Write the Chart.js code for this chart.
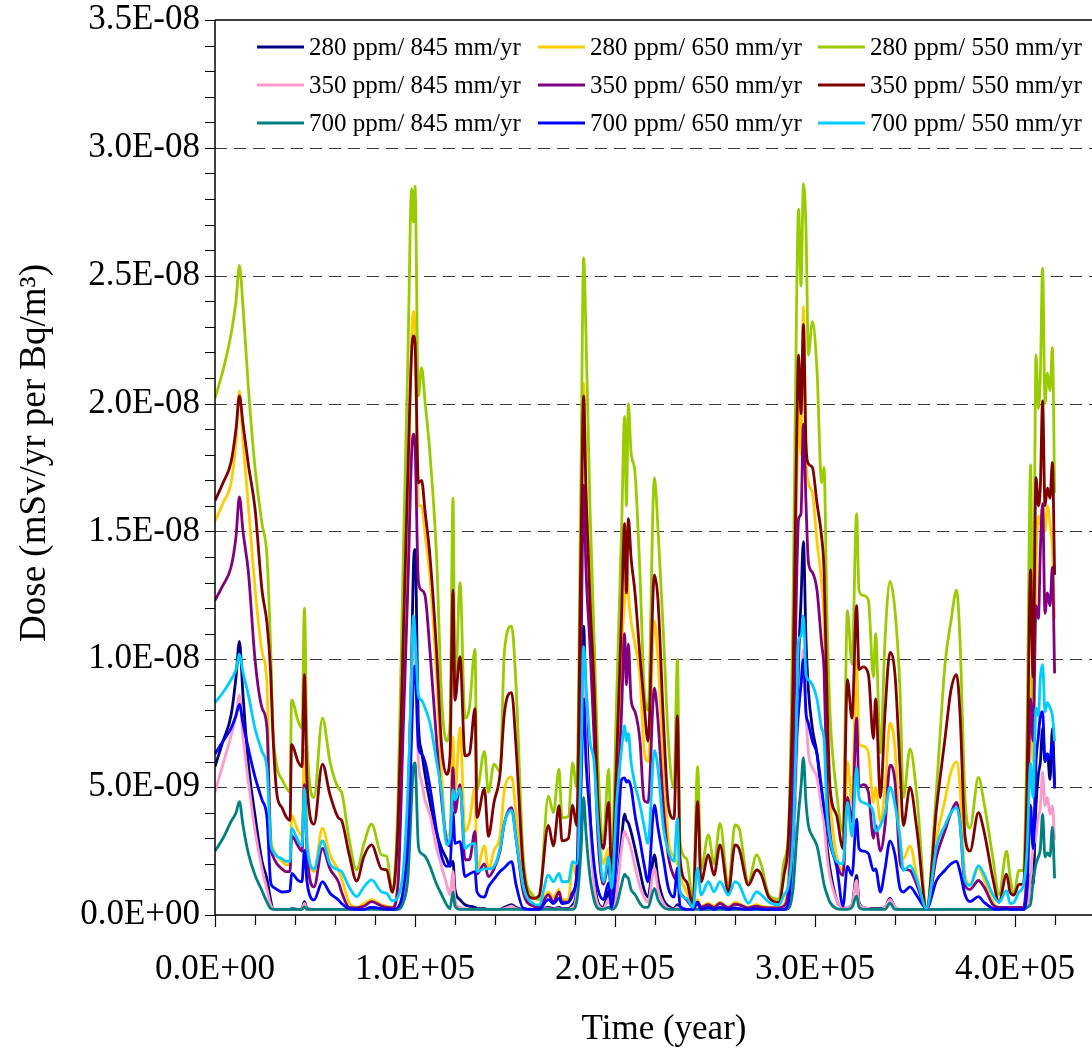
<!DOCTYPE html>
<html>
<head>
<meta charset="utf-8">
<title>Dose vs Time</title>
<script src="https://cdn.jsdelivr.net/npm/chart.js@4.4.1/dist/chart.umd.min.js"></script>
<style>
  html, body { margin: 0; padding: 0; background: #fff; }
  #wrap { width: 1092px; height: 1049px; }
</style>
</head>
<body>
<div id="wrap"><canvas id="doseChart" width="1092" height="1049"></canvas></div>
<script>
// Time in thousands of years
let timeKyr = [
	0, 4, 8, 10.5, 12.2, 14, 16.7, 20, 23.5, 26, 27.8, 29, 31, 33.5, 35.5, 37.5, 38.3, 41.5, 43.5, 44.7, 46,
	49.5, 53.7, 57.5, 61.7, 63.3, 67, 70.8, 74.5, 78.3, 83.3, 85.8, 88.7, 91.5, 94.2, 96.5, 98.3,
	99.2, 100, 101.7, 103.3, 105, 107.5, 110.8, 113.3, 115.8, 117.5, 119, 120, 122.5, 125, 127.2, 130, 131,
	134.7, 136.7, 139.5, 142.5, 144.7, 148.3, 150.5, 154.2, 159, 162, 166.7, 169.2, 172, 173.5, 176.7, 178.8, 180.8,
	183, 184.3, 185.5, 187.5, 189.5, 191.5, 194.2, 196.8, 198.3, 200.8, 203.3, 204.8, 205.7, 206.7, 208, 210, 212.5,
	214.5, 216.5, 219.7, 221.5, 224.2, 226.7, 229.5, 231.2, 232.5, 235.8, 239, 241.3, 243, 246.7, 249.5, 252.5, 256.7, 260, 262,
	266.7, 270.8, 273, 277, 282, 284.5, 286.7, 289, 290.8, 291.8, 293, 294.2, 295.5, 296.7, 298.7, 301,
	303.3, 304.5, 306, 307.5, 310.8, 314, 316.2, 318.5, 320.8, 322, 324, 326.7, 329.2, 330.3, 332.7, 335, 337.5, 340,
	342.5, 344.2, 347.5, 351, 355.8, 360.8, 365, 368, 370.8, 372.5, 375, 377.5, 381.7, 384.5, 389, 392, 395.8, 397.5, 399.5, 402, 404.2,
	406, 407.8, 409, 410.5, 411.7, 412.7, 413.8, 415, 416.2, 417.5, 418.7, 419.8,
]

// Dose values in units of 1E-09 mSv/yr per Bq/m3
let dose280_845 = [
	5.8, 6.8, 7.8, 9.3, 10.7, 8.6, 5.9, 3.9, 2.1, 1.4, 0.6, 0.25, 0.22, 0.22, 0.22, 0.22, 0.25, 0.22, 0.25, 0.52, 0.25,
	0.22, 0.22, 0.22, 0.22, 0.22, 0.22, 0.22, 0.22, 0.3, 0.22, 0.22, 0.22, 0.25, 0.8, 4.0, 10.0,
	13.6, 14.3, 7.5, 6.4, 5.5, 4.4, 3.2, 2.6, 2.2, 1.9, 2.1, 1.0, 0.6, 0.4, 0.35, 0.3, 0.25,
	0.25, 0.22, 0.22, 0.22, 0.3, 0.4, 0.3, 0.22, 0.22, 0.22, 0.3, 0.25, 0.3, 0.25, 0.25, 0.4, 1.0,
	7.0, 11.3, 8.0, 4.0, 1.5, 0.5, 0.3, 0.93, 0.25, 1.0, 3.0, 3.94, 3.7, 3.6, 3.26, 2.6, 1.7,
	1.0, 0.7, 2.35, 1.4, 0.6, 0.35, 0.25, 0.4, 0.22, 0.22, 0.22, 0.35, 0.22, 0.22, 0.22, 0.25, 0.22, 0.22, 0.22,
	0.22, 0.22, 0.22, 0.22, 0.22, 0.22, 0.3, 2.0, 7.0, 10.0, 12.3, 14.6, 10.75, 8.8, 7.3, 6.3,
	4.6, 3.8, 2.7, 1.8, 0.6, 0.3, 0.3, 0.4, 1.55, 0.5, 0.3, 0.25, 0.25, 0.25, 0.25, 0.3, 0.65, 0.3,
	0.22, 0.22, 0.22, 0.22, 0.22, 0.22, 0.22, 0.22, 0.22, 0.22, 0.22, 0.22, 0.22, 0.22, 0.22, 0.22, 0.22, 0.22, 0.22, 0.22, 0.22,
	0.3, 1.6, 1.2, 4.3, 5.5, 6.0, 7.3, 6.0, 6.3, 5.3, 7.3, 5.1,
]
let dose280_650 = [
	15.4, 16.1, 16.9, 18.5, 20.5, 18.5, 16.0, 12.8, 10.3, 9.0, 3.2, 2.6, 2.3, 2.1, 1.96, 2.0, 3.9, 3.3, 3.1, 6.45, 3.2,
	1.7, 3.4, 2.35, 1.76, 1.43, 0.5, 0.3, 0.45, 0.6, 0.4, 0.35, 0.3, 1.5, 8.4, 16.0, 22.5,
	23.6, 22.8, 16.0, 16.0, 14.9, 13.2, 9.3, 5.5, 3.1, 3.27, 6.96, 4.75, 7.33, 3.27, 3.64, 5.0, 1.8,
	2.7, 1.79, 2.53, 3.1, 4.9, 5.4, 4.0, 1.06, 0.41, 0.35, 0.9, 0.7, 1.0, 0.6, 0.6, 2.0, 1.5,
	12.0, 20.8, 16.5, 13.5, 9.3, 4.5, 2.0, 2.6, 0.9, 5.0, 10.5, 12.3, 13.8, 12.5, 11.5, 10.6, 9.3,
	6.5, 6.0, 11.5, 10.0, 5.94, 2.94, 2.27, 2.0, 1.5, 0.9, 0.35, 0.6, 0.35, 0.45, 0.35, 0.5, 0.3, 0.5, 0.45,
	0.3, 0.4, 0.35, 0.3, 0.3, 0.4, 1.5, 7.0, 16.0, 20.0, 18.0, 23.8, 18.0, 16.9, 16.5, 14.6,
	13.0, 11.5, 6.5, 4.5, 2.3, 1.74, 6.0, 4.4, 10.0, 6.7, 6.6, 6.34, 4.4, 5.0, 3.65, 5.0, 7.5, 6.5,
	2.9, 2.2, 2.7, 1.5, 0.26, 3.0, 4.5, 5.6, 6.0, 5.0, 1.55, 1.2, 1.83, 1.4, 0.5, 0.3, 0.3, 0.3, 0.3, 0.3, 0.3,
	2.0, 9.3, 6.0, 13.5, 15.6, 15.3, 16.0, 15.0, 16.0, 15.3, 14.3, 11.6,
]
let dose280_550 = [
	20.2, 21.3, 22.7, 24.0, 25.4, 23.8, 20.6, 17.5, 15.3, 14.0, 10.5, 7.3, 5.8, 5.3, 5.0, 4.8, 8.4, 7.6, 7.3, 12.0, 6.8,
	4.6, 7.7, 6.0, 4.95, 4.8, 3.0, 1.76, 2.8, 3.55, 2.35, 2.3, 0.9, 4.5, 14.2, 22.0, 28.4,
	27.1, 28.5, 20.3, 21.4, 20.1, 18.0, 14.0, 8.5, 6.8, 7.5, 16.3, 8.4, 13.0, 7.7, 8.1, 10.4, 4.9,
	6.4, 4.8, 5.9, 5.6, 10.3, 11.3, 9.0, 2.2, 0.75, 0.6, 4.65, 4.0, 5.7, 3.8, 3.85, 5.95, 5.0,
	17.3, 25.7, 22.7, 15.9, 11.0, 5.94, 2.9, 5.7, 2.1, 8.45, 15.1, 19.5, 16.0, 20.0, 18.1, 17.3, 13.3,
	9.0, 8.0, 17.1, 15.1, 11.0, 6.8, 4.95, 10.0, 2.9, 2.2, 0.5, 5.8, 1.8, 3.13, 2.0, 3.58, 1.17, 3.52, 3.39,
	1.3, 2.35, 2.0, 0.78, 0.62, 2.1, 3.2, 12.0, 24.0, 27.6, 24.6, 28.6, 26.8, 21.9, 23.2, 21.3,
	16.9, 17.5, 11.7, 7.9, 4.8, 3.27, 11.9, 9.8, 15.7, 12.7, 12.5, 12.3, 9.3, 11.0, 6.34, 10.75, 13.05, 11.9,
	8.8, 4.6, 6.5, 4.6, 0.3, 5.0, 9.8, 11.5, 12.7, 10.75, 4.6, 3.4, 5.38, 4.4, 2.2, 0.8, 2.5, 1.5, 0.85, 1.74, 1.74,
	7.0, 17.6, 8.45, 21.9, 19.8, 21.2, 25.3, 20.0, 21.2, 20.5, 22.2, 16.5,
]
let dose350_845 = [
	4.8, 5.9, 7.0, 7.8, 8.6, 7.0, 5.2, 3.3, 1.8, 1.0, 0.4, 0.25, 0.22, 0.22, 0.22, 0.22, 0.22, 0.22, 0.25, 0.45, 0.22,
	0.22, 0.22, 0.22, 0.22, 0.22, 0.22, 0.22, 0.22, 0.3, 0.22, 0.22, 0.22, 0.25, 0.8, 4.0, 9.5,
	11.4, 10.5, 6.0, 5.2, 4.5, 3.9, 2.6, 1.9, 1.2, 0.8, 1.7, 0.6, 0.3, 0.25, 0.22, 0.22, 0.22,
	0.22, 0.22, 0.22, 0.22, 0.25, 0.35, 0.25, 0.22, 0.22, 0.22, 0.25, 0.22, 0.25, 0.22, 0.22, 0.3, 0.8,
	6.0, 10.0, 7.0, 3.5, 1.2, 0.4, 0.25, 0.6, 0.22, 0.9, 2.6, 3.27, 3.1, 2.94, 2.6, 1.9, 1.1,
	0.7, 0.5, 1.83, 1.0, 0.45, 0.25, 0.22, 0.3, 0.22, 0.22, 0.22, 0.3, 0.22, 0.22, 0.22, 0.22, 0.22, 0.22, 0.22,
	0.22, 0.22, 0.22, 0.22, 0.22, 0.22, 0.3, 2.0, 6.0, 8.0, 9.0, 10.4, 7.9, 6.34, 5.76, 5.38,
	4.2, 3.6, 2.3, 1.5, 0.6, 0.3, 0.3, 0.4, 1.35, 0.45, 0.3, 0.25, 0.22, 0.22, 0.22, 0.3, 0.6, 0.3,
	0.22, 0.22, 0.22, 0.22, 0.22, 0.22, 0.22, 0.22, 0.22, 0.22, 0.22, 0.22, 0.22, 0.22, 0.22, 0.22, 0.22, 0.22, 0.22, 0.22, 0.22,
	0.3, 1.5, 2.6, 3.1, 3.8, 4.27, 5.6, 4.27, 4.6, 3.94, 4.27, 2.94,
]
let dose350_650 = [
	12.3, 12.9, 13.6, 14.8, 16.35, 15.0, 13.4, 10.0, 8.1, 7.3, 2.8, 2.3, 2.0, 1.8, 1.7, 1.7, 3.1, 2.7, 2.5, 5.1, 2.5,
	1.1, 2.6, 1.8, 1.3, 0.9, 0.3, 0.28, 0.35, 0.52, 0.35, 0.3, 0.28, 1.2, 7.5, 13.0, 18.0,
	18.8, 18.4, 13.05, 12.7, 12.5, 10.3, 6.8, 4.5, 2.9, 2.7, 5.76, 4.0, 5.1, 2.16, 2.16, 3.27, 1.6,
	2.0, 1.5, 1.8, 2.5, 3.6, 4.2, 3.0, 0.87, 0.35, 0.3, 0.8, 0.5, 0.9, 0.5, 0.5, 0.9, 1.5,
	10.0, 16.8, 13.5, 10.5, 7.0, 3.0, 1.2, 1.93, 0.76, 3.5, 8.0, 11.0, 9.0, 10.6, 8.45, 7.95, 6.8,
	4.5, 4.4, 8.87, 7.6, 4.27, 2.3, 1.5, 1.3, 0.9, 0.6, 0.3, 0.5, 0.3, 0.4, 0.3, 0.45, 0.28, 0.42, 0.4,
	0.28, 0.35, 0.3, 0.28, 0.28, 0.35, 1.0, 5.5, 13.0, 15.5, 15.7, 19.2, 16.1, 13.8, 13.4, 12.7,
	10.6, 9.6, 5.0, 3.2, 2.0, 1.55, 4.6, 3.65, 7.7, 5.0, 5.1, 4.8, 3.0, 3.5, 2.5, 3.5, 5.86, 5.2,
	2.1, 1.8, 1.74, 1.16, 0.26, 2.3, 3.3, 4.0, 4.4, 3.6, 1.16, 1.0, 1.35, 1.1, 0.4, 0.3, 0.3, 0.3, 0.3, 0.3, 0.3,
	2.0, 8.45, 6.8, 12.1, 11.6, 14.3, 16.1, 11.8, 12.6, 12.1, 13.6, 9.45,
]
let dose350_550 = [
	16.2, 16.9, 17.7, 19.0, 20.3, 19.2, 17.6, 15.9, 12.7, 11.4, 9.5, 7.0, 4.7, 4.2, 3.85, 3.7, 6.67, 6.0, 5.8, 9.4, 5.2,
	3.55, 5.9, 4.7, 3.8, 3.7, 2.4, 1.33, 2.3, 2.74, 1.8, 1.76, 0.89, 3.5, 11.0, 17.5, 22.0,
	22.65, 22.4, 16.9, 17.0, 15.8, 14.0, 10.3, 6.6, 5.5, 6.2, 12.7, 8.4, 10.1, 6.22, 6.3, 8.07, 3.82,
	4.93, 3.08, 4.4, 5.5, 7.9, 8.7, 6.6, 1.8, 0.65, 0.75, 3.5, 2.7, 4.28, 2.9, 3.0, 4.3, 3.5,
	14.3, 20.3, 16.5, 12.3, 9.0, 4.3, 2.6, 4.4, 1.6, 6.0, 11.8, 15.3, 12.6, 15.5, 14.0, 12.6, 10.1,
	8.3, 6.8, 13.3, 12.3, 7.6, 4.27, 3.77, 7.8, 2.2, 1.3, 0.4, 4.43, 1.3, 2.35, 1.56, 2.74, 0.91, 2.74, 2.6,
	1.17, 1.76, 1.6, 0.68, 0.5, 1.56, 3.0, 9.0, 18.4, 21.9, 19.6, 23.1, 18.4, 17.65, 17.5, 16.1,
	14.8, 13.5, 8.5, 5.0, 3.9, 2.6, 9.2, 7.7, 12.1, 9.6, 9.7, 9.4, 6.9, 8.45, 4.6, 7.9, 10.27, 9.4,
	5.8, 3.5, 5.0, 3.3, 0.26, 4.2, 6.9, 8.8, 9.4, 7.9, 3.1, 2.5, 4.0, 3.27, 1.4, 0.5, 1.6, 0.9, 0.78, 1.2, 1.2,
	5.0, 13.5, 9.3, 17.1, 16.0, 16.8, 20.1, 16.0, 16.7, 16.3, 17.7, 13.3,
]
let dose700_845 = [
	2.5, 3.0, 3.65, 4.0, 4.43, 3.5, 2.4, 1.56, 0.95, 0.5, 0.25, 0.22, 0.22, 0.22, 0.22, 0.22, 0.22, 0.22, 0.22, 0.32, 0.22,
	0.22, 0.22, 0.22, 0.22, 0.22, 0.22, 0.22, 0.22, 0.22, 0.22, 0.22, 0.22, 0.22, 0.5, 1.5, 4.5,
	5.8, 5.95, 2.7, 2.4, 2.3, 1.9, 1.2, 0.8, 0.4, 0.25, 0.9, 0.35, 0.22, 0.22, 0.22, 0.22, 0.22,
	0.22, 0.22, 0.22, 0.22, 0.22, 0.22, 0.22, 0.22, 0.22, 0.22, 0.22, 0.22, 0.22, 0.22, 0.22, 0.22, 0.5,
	2.5, 4.6, 3.2, 1.5, 0.6, 0.25, 0.22, 0.3, 0.22, 0.4, 1.2, 1.6, 1.5, 1.43, 1.0, 0.8, 0.45,
	0.3, 0.3, 1.04, 0.6, 0.3, 0.22, 0.22, 0.22, 0.22, 0.22, 0.22, 0.22, 0.22, 0.22, 0.22, 0.22, 0.22, 0.22, 0.22,
	0.22, 0.22, 0.22, 0.22, 0.22, 0.22, 0.25, 1.0, 3.0, 4.0, 5.0, 6.15, 4.4, 3.5, 3.08, 2.7,
	1.74, 1.2, 0.8, 0.5, 0.25, 0.22, 0.22, 0.3, 0.75, 0.3, 0.22, 0.22, 0.22, 0.22, 0.22, 0.22, 0.46, 0.22,
	0.22, 0.22, 0.22, 0.22, 0.22, 0.22, 0.22, 0.22, 0.22, 0.22, 0.22, 0.22, 0.22, 0.22, 0.22, 0.22, 0.22, 0.22, 0.22, 0.22, 0.22,
	0.3, 0.43, 1.26, 2.0, 2.27, 2.6, 3.94, 2.27, 2.43, 2.3, 3.44, 1.43,
]
let dose700_650 = [
	6.3, 6.8, 7.3, 7.8, 8.24, 7.5, 6.5, 5.4, 4.5, 3.8, 1.3, 1.1, 1.0, 0.9, 0.91, 0.95, 1.63, 1.35, 1.3, 2.54, 1.3,
	0.59, 1.3, 0.85, 0.59, 0.45, 0.25, 0.22, 0.22, 0.3, 0.25, 0.22, 0.22, 0.3, 1.0, 3.0, 7.0,
	9.2, 9.73, 6.6, 6.3, 6.0, 5.0, 3.3, 2.3, 1.9, 1.96, 4.0, 2.8, 2.87, 1.5, 1.6, 1.7, 0.9,
	0.7, 1.1, 1.4, 1.7, 1.85, 2.09, 1.2, 0.26, 0.22, 0.22, 0.6, 0.45, 0.65, 0.45, 0.5, 0.78, 1.5,
	5.0, 8.45, 6.0, 3.9, 2.0, 1.0, 0.6, 1.26, 0.3, 2.3, 5.3, 5.36, 5.2, 5.25, 5.0, 3.9, 2.9,
	2.0, 1.3, 4.3, 3.4, 2.2, 1.04, 0.7, 1.83, 0.35, 0.22, 0.22, 0.5, 0.22, 0.3, 0.22, 0.3, 0.22, 0.28, 0.25,
	0.22, 0.25, 0.22, 0.22, 0.22, 0.22, 0.5, 3.0, 6.9, 8.0, 9.0, 10.0, 7.9, 7.5, 6.8, 6.3,
	4.95, 4.2, 3.5, 2.8, 1.9, 0.35, 1.9, 1.55, 3.75, 2.6, 2.5, 2.4, 1.74, 1.8, 0.9, 1.8, 2.9, 2.35,
	1.04, 0.9, 1.1, 0.75, 0.26, 1.35, 1.75, 2.0, 2.1, 1.7, 0.8, 0.52, 0.72, 0.5, 0.25, 0.22, 0.25, 0.22, 0.22, 0.22, 0.22,
	1.0, 4.3, 2.6, 6.0, 7.0, 7.8, 7.95, 6.0, 6.3, 6.1, 6.8, 4.94,
]
let dose700_550 = [
	8.3, 8.7, 9.2, 9.6, 10.2, 9.5, 8.6, 7.3, 6.4, 5.7, 2.9, 2.5, 2.3, 2.2, 2.1, 2.1, 3.4, 2.9, 2.7, 4.95, 2.8,
	1.8, 2.9, 2.0, 1.76, 1.7, 1.1, 0.72, 1.1, 1.37, 0.9, 0.85, 0.55, 0.7, 1.8, 5.0, 9.0,
	11.7, 11.0, 8.6, 8.4, 8.1, 7.5, 6.0, 4.8, 2.74, 3.0, 4.9, 4.5, 4.95, 2.6, 2.74, 2.8, 1.7,
	1.8, 1.8, 1.9, 2.6, 3.6, 4.1, 3.0, 1.1, 0.45, 0.39, 1.56, 1.3, 1.63, 1.3, 1.3, 2.1, 2.0,
	6.0, 10.5, 9.0, 6.8, 6.0, 3.5, 1.3, 2.27, 1.04, 4.4, 6.5, 7.4, 6.8, 7.1, 6.0, 5.1, 4.3,
	3.5, 2.8, 6.44, 5.7, 3.4, 2.5, 2.1, 3.78, 0.9, 0.65, 0.3, 1.83, 0.78, 1.3, 0.91, 1.3, 0.78, 1.3, 1.2,
	0.46, 0.91, 0.8, 0.5, 0.4, 0.8, 1.16, 3.0, 7.5, 10.75, 10.9, 11.7, 9.4, 9.2, 9.0, 8.45,
	7.3, 6.9, 4.0, 3.0, 2.1, 2.0, 4.4, 3.08, 5.76, 4.6, 4.4, 4.3, 4.0, 3.27, 3.5, 4.0, 5.0, 4.3,
	3.0, 1.74, 1.93, 1.35, 0.26, 2.7, 3.5, 4.0, 4.2, 3.6, 1.35, 1.16, 1.93, 1.6, 0.78, 0.5, 0.95, 0.45, 0.5, 0.9, 1.16,
	2.5, 5.94, 4.6, 8.1, 7.8, 9.3, 9.8, 7.95, 8.3, 8.1, 7.8, 6.8,
]

let seriesLabels = [
	"280 ppm/ 845 mm/yr", "280 ppm/ 650 mm/yr", "280 ppm/ 550 mm/yr",
	"350 ppm/ 845 mm/yr", "350 ppm/ 650 mm/yr", "350 ppm/ 550 mm/yr",
	"700 ppm/ 845 mm/yr", "700 ppm/ 650 mm/yr", "700 ppm/ 550 mm/yr",
]
let seriesValues = [
	dose280_845, dose280_650, dose280_550,
	dose350_845, dose350_650, dose350_550,
	dose700_845, dose700_650, dose700_550,
]
let seriesColors = [
	"#000080", "#FFCC00", "#99CC00",
	"#FF99CC", "#800080", "#800000",
	"#008080", "#0000FF", "#00CCFF",
]

let xTickValues = [0, 1e5, 2e5, 3e5, 4e5]
let yTickValues = [0, 5e-9, 1e-8, 1.5e-8, 2e-8, 2.5e-8, 3e-8, 3.5e-8]
let xTitle = "Time (year)"
let yTitle = "Dose (mSv/yr per Bq/m³)"

const FONT = '"Times New Roman", "Liberation Serif", serif'
const X_MAX = 438500
const Y_MAX = 3.5e-8

// 3.0E-08 style labels
function sciLabel(v) {
	if (Math.abs(v) < 1e-20) return "0.0E+00"
	let exp = Math.floor(Math.log10(Math.abs(v)) + 1e-9)
	let mant = v / Math.pow(10, exp)
	if (Math.round(mant * 10) >= 100) {
		exp += 1
		mant /= 10
	}
	let sign = exp < 0 ? "-" : "+"
	return mant.toFixed(1) + "E" + sign + String(Math.abs(exp)).padStart(2, "0")
}

// dashed grid, frame, tick marks, axis titles and the in-plot legend
let frame = {
	id: "frame",
	beforeDatasetsDraw(chart) {
		let {ctx, chartArea: a, scales: {y}} = chart
		ctx.save()
		ctx.strokeStyle = "#3a3a3a"
		ctx.lineWidth = 1.2
		ctx.setLineDash([12, 7])
		yTickValues.forEach(v => {
			if (v <= 0 || v >= Y_MAX) return
			let py = Math.round(y.getPixelForValue(v)) + 0.5
			ctx.beginPath()
			ctx.moveTo(a.left, py)
			ctx.lineTo(a.right, py)
			ctx.stroke()
		})
		ctx.restore()
	},
	afterDatasetsDraw(chart) {
		let {ctx, chartArea: a, scales: {x, y}} = chart
		ctx.save()
		ctx.strokeStyle = "#000"
		ctx.lineWidth = 1.5
		ctx.setLineDash([])

		// axes and top edge
		ctx.beginPath()
		ctx.moveTo(a.left, a.top)
		ctx.lineTo(a.left, a.bottom)
		ctx.lineTo(a.right, a.bottom)
		ctx.moveTo(a.left, a.top)
		ctx.lineTo(a.right, a.top)
		ctx.stroke()

		// minor ticks every 1E-09 on y, every 2E+04 on x
		ctx.lineWidth = 1.2
		ctx.beginPath()
		for (let k = 0; k <= 35; k++) {
			let py = Math.round(y.getPixelForValue(k * 1e-9)) + 0.5
			ctx.moveTo(a.left - 10, py)
			ctx.lineTo(a.left, py)
		}
		for (let k = 0; k * 2e4 <= X_MAX; k++) {
			let px = Math.round(x.getPixelForValue(k * 2e4)) + 0.5
			ctx.moveTo(px, a.bottom)
			ctx.lineTo(px, a.bottom + (k % 5 == 0 ? 12 : 10))
		}
		ctx.stroke()

		// axis titles
		ctx.fillStyle = "#000"
		ctx.textAlign = "center"
		ctx.textBaseline = "middle"
		ctx.font = "35px " + FONT
		ctx.fillText(xTitle, 664, 1030)
		ctx.save()
		ctx.font = "37px " + FONT
		ctx.translate(35, 453)
		ctx.rotate(-Math.PI / 2)
		ctx.fillText(yTitle, 0, 0)
		ctx.restore()

		// legend, three columns
		let colX = [257, 538, 818]
		let rowY = [47, 85, 123]
		ctx.font = "25px " + FONT
		ctx.textAlign = "left"
		seriesLabels.forEach((label, i) => {
			let lx = colX[i % 3]
			let ly = rowY[Math.floor(i / 3)]
			ctx.strokeStyle = seriesColors[i]
			ctx.lineWidth = 3
			ctx.beginPath()
			ctx.moveTo(lx, ly)
			ctx.lineTo(lx + 47, ly)
			ctx.stroke()
			ctx.fillStyle = "#000"
			ctx.fillText(label, lx + 52, ly + 1)
		})
		ctx.restore()
	},
}

let datasets = seriesValues.map(function (values, i) {
	return {
		label: seriesLabels[i],
		borderColor: seriesColors[i],
		backgroundColor: seriesColors[i],
		borderWidth: 2.8,
		pointRadius: 0,
		cubicInterpolationMode: "monotone",
		order: seriesValues.length - i,
		data: timeKyr.map((t, j) => ({x: t * 1000, y: values[j] * 1e-9})),
	}
})

let ctx = document.getElementById("doseChart").getContext("2d")
let doseChart = new Chart(ctx, {
	type: "line",
	data: {datasets: datasets},
	options: {
		responsive: false,
		animation: false,
		devicePixelRatio: 1,
		layout: {padding: {top: 20, right: 0, bottom: 0, left: 0}},
		plugins: {
			legend: {display: false},
			tooltip: {enabled: false},
		},
		scales: {
			x: {
				type: "linear",
				min: 0,
				max: X_MAX,
				grid: {display: false, drawTicks: false},
				border: {display: false},
				ticks: {
					font: {family: FONT, size: 35},
					color: "#000",
					padding: 34,
					maxRotation: 0,
					autoSkip: false,
					callback: v => sciLabel(v),
				},
				afterBuildTicks: s => { s.ticks = xTickValues.map(v => ({value: v})) },
				afterFit: s => {
					s.height = 134
					s.paddingLeft = 0
					s.paddingRight = 0
				},
			},
			y: {
				type: "linear",
				min: 0,
				max: Y_MAX,
				grid: {display: false, drawTicks: false},
				border: {display: false},
				ticks: {
					font: {family: FONT, size: 35},
					color: "#000",
					padding: 15,
					autoSkip: false,
					callback: v => sciLabel(v),
				},
				afterBuildTicks: s => { s.ticks = yTickValues.map(v => ({value: v})) },
				afterFit: s => {
					s.width = 215
					s.paddingTop = 0
					s.paddingBottom = 0
				},
			},
		},
	},
	plugins: [frame],
})
</script>
</body>
</html>
